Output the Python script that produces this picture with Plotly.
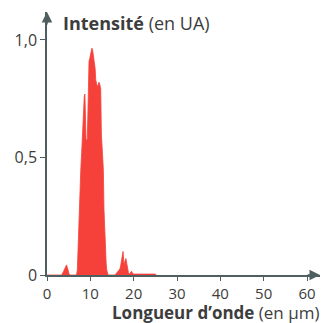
import plotly.graph_objects as go

wavelength = [0, 3.4, 3.8, 4.2, 4.5, 4.8, 5.1, 5.4, 6.8, 7.0, 7.2, 7.4, 7.6, 7.8, 8.0, 8.15, 8.3, 8.45,
              8.6, 8.75, 8.85, 9.0, 9.15, 9.3, 9.45, 9.55, 9.7, 9.85, 10.0, 10.2, 10.35, 10.5, 10.65,
              10.8, 10.95, 11.1, 11.25, 11.4, 11.6, 11.8, 12.0, 12.2, 12.4, 12.55, 12.7, 12.85, 13.0,
              13.15, 13.3, 13.5, 13.65, 13.8, 14.1, 15.7, 16.1, 16.5, 16.8, 17.0, 17.2, 17.4, 17.55,
              17.7, 17.85, 18.0, 18.2, 18.4, 18.6, 18.8, 19.0, 19.3, 19.5, 19.7, 20.0, 25.0, 25.2]
intensity = [0, 0, 0.015, 0.035, 0.043, 0.025, 0.003, 0, 0, 0.02, 0.15, 0.30, 0.39, 0.45, 0.52, 0.60,
             0.62, 0.74, 0.76, 0.77, 0.62, 0.58, 0.57, 0.58, 0.70, 0.88, 0.91, 0.92, 0.94, 0.955, 0.965,
             0.96, 0.94, 0.92, 0.90, 0.88, 0.83, 0.82, 0.80, 0.81, 0.82, 0.81, 0.79, 0.60, 0.54, 0.50,
             0.45, 0.28, 0.18, 0.11, 0.05, 0.02, 0, 0, 0.01, 0.02, 0.025, 0.04, 0.06, 0.095, 0.10, 0.06,
             0.04, 0.06, 0.07, 0.05, 0.02, 0.01, 0.003, 0.01, 0.016, 0.008, 0.004, 0.004, 0]

x_ticks = [0, 10, 20, 30, 40, 50, 60]
y_ticks = [0, 0.5, 1.0]
y_tick_labels = ["0", "0,5", "1,0"]

axis_color = "#4f5f5f"
text_color = "#3d3d3d"
font_family = "Open Sans"

fig = go.Figure()
fig.add_trace(go.Scatter(
    x=wavelength, y=intensity, mode="lines", fill="tozeroy",
    line=dict(color="#f5413a", width=0.8), fillcolor="#f5413a", hoverinfo="skip"))

fig.update_layout(
    width=324, height=323,
    margin=dict(l=47, r=4, t=12, b=48, autoexpand=False),
    paper_bgcolor="white", plot_bgcolor="white",
    showlegend=False,
    font=dict(family=font_family, size=16, color=text_color),
    xaxis=dict(range=[0, 63.0], tickvals=x_ticks, ticktext=[str(v) for v in x_ticks],
               automargin=False,
               showgrid=False, zeroline=False, showline=True, linecolor=axis_color, linewidth=1.5,
               ticks="outside", ticklen=4, tickwidth=1.2, tickcolor=axis_color,
               tickfont=dict(size=15, color=text_color, family=font_family)),
    yaxis=dict(range=[0, 1.119], tickvals=y_ticks, ticktext=y_tick_labels,
               automargin=False,
               showgrid=False, zeroline=False, showline=True, linecolor=axis_color, linewidth=1.5,
               ticks="outside", ticklen=5, tickwidth=1.2, tickcolor=axis_color,
               tickfont=dict(size=16, color=text_color, family=font_family)),
)

# arrowheads on axes
fig.add_annotation(x=1.0, y=0, xref="paper", yref="paper", ax=-14, ay=0, showarrow=True,
                   arrowhead=2, arrowsize=1.4, arrowwidth=1.5, arrowcolor=axis_color, text="")
fig.add_annotation(x=0, y=1.0, xref="paper", yref="paper", ax=0, ay=14, showarrow=True,
                   arrowhead=2, arrowsize=1.4, arrowwidth=1.5, arrowcolor=axis_color, text="")

fig.add_annotation(x=0.051, y=0.958, xref="paper", yref="paper", xanchor="left", yanchor="middle",
                   showarrow=False, text="<b>Intensité</b> (en UA)",
                   font=dict(size=18, color=text_color, family=font_family))
fig.add_annotation(x=1.004, y=-0.141, xref="paper", yref="paper", xanchor="right", yanchor="middle",
                   showarrow=False, text="<b>Longueur d’onde</b> (en µm)",
                   font=dict(size=17, color=text_color, family=font_family))

fig.write_html("out.html", config={"displayModeBar": False},
               post_script="document.body.style.margin='0';document.body.style.padding='0';")
